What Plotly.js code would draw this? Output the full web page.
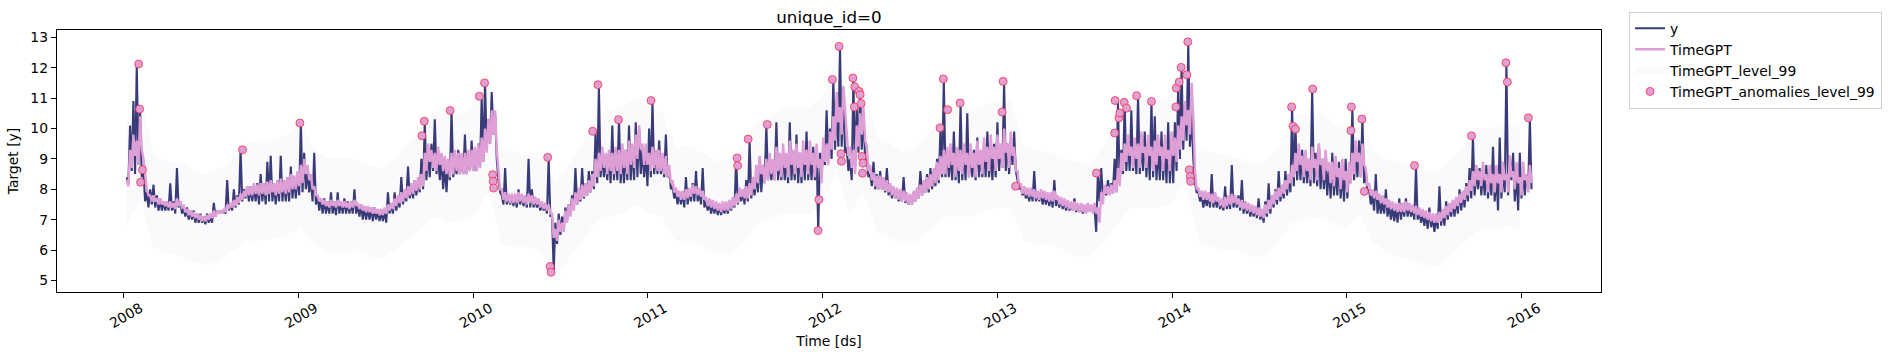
<!DOCTYPE html>
<html><head><meta charset="utf-8">
<script src="https://cdn.plot.ly/plotly-3.0.1.min.js"></script>
<style>html,body{margin:0;padding:0;background:#fff;}#chart{width:1893px;height:361px;}</style>
</head><body><div id="chart"></div>
<script>
// one weekday (high) and one weekend (low) reading per week, starting at this date
const seriesStart = '2008-01-08';
const weekDays = 7;

const yWeekHigh = [
8.4,10.1,10.9,12.1,10.6,8.6,7.9,8.0,8.15,7.8,
7.7,7.6,7.6,8.2,7.6,8.7,7.6,7.4,7.4,7.3,
7.3,7.2,7.2,7.1,7.2,7.1,7.55,7.3,7.3,7.3,
8.3,7.5,8.0,7.8,9.3,8.0,8.1,8.1,8.1,8.2,
8.5,8.2,8.9,9.1,8.2,8.3,9.1,8.3,8.4,8.75,
8.4,8.5,10.2,9.2,8.6,8.4,9.2,7.8,7.7,7.7,
7.6,7.9,7.6,7.9,7.6,7.7,7.6,7.6,8.0,7.5,
7.5,7.4,7.4,7.4,7.4,7.3,7.3,7.3,7.9,7.5,
7.9,7.7,8.4,7.9,8.75,8.1,8.3,8.3,9.0,10.2,
9.3,9.5,10.3,9.1,9.0,8.8,8.9,10.6,8.9,9.3,
9.0,9.8,9.1,9.6,9.2,9.5,11.0,11.5,10.3,11.2,
10.5,8.3,7.8,8.7,7.8,7.8,7.8,8.0,7.8,7.8,
9.0,8.0,7.7,7.6,7.5,7.5,9.0,7.2,6.9,7.2,
7.1,7.4,7.5,7.8,8.7,8.0,8.7,8.2,8.6,8.6,
9.9,11.4,9.2,9.0,9.2,10.1,9.3,10.3,9.2,9.3,
10.1,9.4,10.2,10.0,9.3,9.2,10.0,10.9,9.2,9.6,
9.0,9.8,8.6,8.1,7.9,7.9,7.9,8.4,8.0,8.2,
8.6,7.9,8.7,7.6,7.6,7.5,7.5,7.45,7.5,7.5,
7.6,7.7,9.0,8.0,7.9,8.3,9.6,8.2,8.5,9.0,
8.8,10.1,9.0,8.9,10.2,9.0,9.2,9.1,10.2,9.2,
9.8,9.2,9.3,9.9,9.2,9.4,9.3,9.2,9.5,10.6,
10.0,11.6,10.8,12.7,11.3,9.4,9.0,11.6,10.7,11.2,
10.5,9.0,8.5,8.9,8.5,8.6,8.3,8.7,8.1,8.0,
7.95,7.9,8.4,7.8,7.8,7.9,8.0,8.6,8.2,8.5,
8.7,8.6,9.0,10.0,11.6,9.3,9.2,9.9,9.1,10.8,
9.3,10.5,9.1,9.3,9.7,9.2,9.4,9.9,9.3,9.5,
10.2,9.4,11.5,9.5,9.6,9.9,8.3,8.1,8.0,7.9,
8.0,8.6,7.9,7.9,7.8,7.8,7.8,8.3,7.7,7.7,
7.6,7.6,7.5,7.7,7.45,7.5,7.4,7.5,7.4,7.4,
8.5,8.7,8.1,8.3,8.2,9.0,10.9,9.3,10.8,9.6,
10.6,9.5,11.1,9.6,9.9,9.6,10.9,10.4,9.4,9.9,
9.5,10.2,9.6,10.2,11.5,12.0,10.8,12.8,10.5,8.2,
7.9,7.8,7.8,7.8,8.5,7.8,7.7,7.6,8.1,7.7,
8.8,7.7,7.8,8.3,7.6,7.5,7.4,7.4,7.7,7.3,
7.6,8.2,7.8,8.0,8.6,8.1,8.6,8.5,10.7,10.1,
9.3,9.3,9.1,9.0,11.3,9.2,9.5,9.0,8.9,8.8,
9.2,8.7,8.9,8.6,9.0,8.6,10.7,9.4,9.6,10.3,
8.6,8.0,7.8,8.5,7.7,7.6,8.0,7.5,7.4,7.4,
7.7,7.5,7.7,7.5,7.4,8.7,7.3,7.2,7.2,7.4,
7.1,7.1,8.1,7.3,7.6,7.5,7.6,7.7,8.0,7.9,
8.2,8.7,9.7,8.7,8.7,8.6,8.8,8.6,9.4,8.5,
9.7,8.6,12.1,9.1,9.2,8.6,9.2,8.6,8.5,10.3
];
const yWeekLow = [
8.2,8.6,8.5,8.8,8.4,7.6,7.4,7.5,7.4,7.3,
7.3,7.3,7.3,7.3,7.2,7.4,7.2,7.1,7.0,7.0,
6.9,6.9,6.9,6.85,6.9,6.9,7.1,7.2,7.2,7.2,
7.3,7.3,7.4,7.5,7.6,7.7,7.6,7.6,7.6,7.5,
7.6,7.5,7.6,7.6,7.5,7.6,7.6,7.6,7.6,7.7,
7.7,7.8,7.9,8.0,7.9,7.6,7.5,7.3,7.2,7.2,
7.2,7.2,7.15,7.2,7.2,7.2,7.2,7.2,7.2,7.1,
7.0,7.0,7.0,6.95,7.0,6.95,6.95,6.9,7.2,7.2,
7.3,7.4,7.5,7.6,7.7,7.7,7.8,7.9,8.0,8.3,
8.4,8.6,8.5,8.3,8.0,7.9,8.3,8.4,8.5,8.5,
8.5,8.5,8.6,8.6,8.6,8.7,8.9,9.3,9.5,9.8,
9.0,7.9,7.5,7.5,7.5,7.45,7.4,7.5,7.45,7.4,
7.4,7.4,7.4,7.3,7.3,7.2,7.1,5.3,6.2,6.5,
6.7,7.0,7.2,7.4,7.5,7.6,7.7,7.8,7.9,8.0,
8.2,8.4,8.4,8.3,8.2,8.3,8.3,8.2,8.2,8.3,
8.3,8.3,8.4,8.5,8.4,8.1,8.4,8.5,8.5,8.5,
8.4,8.4,8.0,7.7,7.5,7.5,7.4,7.5,7.6,7.6,
7.6,7.5,7.4,7.3,7.2,7.2,7.15,7.15,7.2,7.2,
7.3,7.4,7.5,7.6,7.5,7.6,7.7,7.8,7.9,7.9,
8.2,8.3,8.3,8.3,8.3,8.3,8.3,8.2,8.3,8.3,
8.2,8.2,8.3,8.3,8.3,8.3,6.6,8.4,8.8,9.0,
9.0,9.3,9.4,9.4,9.2,8.6,8.3,8.7,9.2,9.3,
9.0,8.4,8.1,8.0,8.0,8.0,7.9,7.8,7.7,7.7,
7.6,7.6,7.55,7.5,7.5,7.6,7.7,7.8,7.9,7.9,
8.0,8.1,8.2,8.4,8.4,8.4,8.3,8.3,8.2,8.3,
8.3,8.4,8.4,8.3,8.4,8.4,8.4,8.4,8.3,8.4,
8.6,8.7,8.6,8.5,8.8,8.6,8.0,7.8,7.7,7.6,
7.6,7.6,7.6,7.5,7.5,7.45,7.4,7.45,7.4,7.35,
7.3,7.3,7.3,7.25,7.25,7.2,7.25,7.3,7.3,6.6,
7.6,7.8,7.8,7.9,7.9,7.9,8.2,8.5,8.6,8.6,
8.6,8.5,8.5,8.6,8.4,8.3,8.4,8.3,8.3,8.3,
8.2,8.2,8.2,8.6,9.0,9.3,9.6,9.4,9.0,7.9,
7.6,7.4,7.45,7.4,7.4,7.4,7.35,7.3,7.35,7.35,
7.4,7.4,7.3,7.2,7.2,7.1,7.1,7.05,7.0,6.9,
7.1,7.2,7.4,7.5,7.6,7.7,7.8,7.9,8.1,8.3,
8.3,8.2,8.2,8.1,8.2,8.1,8.0,8.0,7.8,7.7,
7.8,7.8,7.7,7.6,7.7,8.2,8.3,8.4,8.4,8.2,
7.9,7.5,7.3,7.2,7.2,7.2,7.1,7.0,6.95,6.9,
7.0,7.1,7.1,7.1,7.0,7.0,6.9,6.8,6.7,6.75,
6.6,6.7,6.8,6.8,7.0,7.1,7.1,7.2,7.3,7.4,
7.6,7.7,7.8,8.0,7.8,7.8,7.7,7.8,7.6,7.3,
7.7,7.9,7.8,8.3,7.6,7.3,7.7,7.8,8.0,8.0
];

const timegptWeekHigh = [
8.3,9.3,9.8,9.6,10.4,9.0,8.0,7.8,7.8,7.7,
7.7,7.6,7.6,7.6,7.55,7.7,7.6,7.45,7.35,7.3,
7.25,7.2,7.15,7.1,7.15,7.2,7.3,7.3,7.3,7.35,
7.5,7.55,7.65,7.75,7.85,7.95,8.1,8.1,8.2,8.15,
8.2,8.2,8.25,8.3,8.2,8.3,8.35,8.3,8.4,8.5,
8.45,8.6,8.8,9.0,8.8,8.5,8.1,7.8,7.7,7.65,
7.6,7.65,7.6,7.65,7.6,7.6,7.55,7.6,7.65,7.55,
7.5,7.45,7.45,7.4,7.4,7.35,7.35,7.4,7.5,7.55,
7.7,7.8,7.9,8.0,8.1,8.2,8.3,8.4,8.5,9.2,
9.5,9.3,9.2,9.4,9.2,9.1,9.0,9.2,9.3,9.2,
9.2,9.2,9.3,9.3,9.4,9.5,9.7,10.0,10.3,10.6,
10.6,8.6,8.0,7.9,7.85,7.85,7.85,7.9,7.85,7.8,
7.85,7.8,7.75,7.7,7.6,7.55,7.5,7.2,6.7,7.0,
6.9,7.3,7.5,7.7,7.9,8.05,8.15,8.2,8.3,8.5,
9.0,9.2,9.4,9.2,9.3,9.2,9.4,9.3,9.5,9.3,
9.6,9.5,9.8,10.1,9.5,9.5,9.2,9.4,9.3,9.3,
9.2,9.1,8.8,8.3,8.05,7.95,7.95,8.0,8.05,8.15,
8.1,8.05,7.95,7.75,7.7,7.65,7.6,7.55,7.6,7.6,
7.65,7.75,7.85,8.05,8.0,8.1,8.2,8.4,8.8,9.1,
8.8,9.0,9.2,9.0,9.4,9.2,9.5,9.2,9.6,9.3,
9.5,9.2,9.6,9.3,9.6,9.2,9.5,9.0,9.7,9.5,
9.9,10.4,11.2,10.7,11.4,9.9,9.4,9.3,10.1,10.5,
10.7,9.4,8.8,8.55,8.45,8.45,8.4,8.3,8.2,8.1,
8.05,8.0,7.95,7.9,7.85,7.95,8.05,8.15,8.3,8.4,
8.5,8.7,8.9,9.1,9.3,9.4,9.5,9.2,9.4,9.3,
9.5,9.2,9.5,9.2,9.6,9.3,9.7,9.4,9.8,9.4,
9.8,9.5,10.0,9.5,9.9,9.4,8.6,8.2,8.1,8.05,
8.05,8.0,7.95,8.0,7.95,7.9,7.9,7.95,7.8,7.75,
7.7,7.65,7.6,7.6,7.55,7.55,7.5,7.55,7.5,7.55,
7.4,7.9,8.15,8.1,8.15,8.3,8.7,9.2,9.5,9.8,
9.4,9.7,9.5,9.9,9.4,9.8,9.4,9.6,9.8,9.4,
9.8,9.3,9.9,9.7,10.1,10.4,10.9,10.6,11.5,8.6,
8.05,7.95,7.95,7.9,7.85,7.9,7.75,7.7,7.75,7.8,
7.85,7.8,7.7,7.65,7.6,7.55,7.5,7.45,7.4,7.35,
7.5,7.65,7.8,7.95,8.05,8.15,8.3,8.5,8.8,9.2,
9.5,9.1,9.3,9.0,9.4,9.0,9.5,9.0,9.3,8.9,
8.9,9.1,8.7,9.0,8.6,8.9,9.2,9.6,9.2,9.5,
8.7,8.2,8.0,7.95,7.85,7.8,7.7,7.65,7.6,7.55,
7.55,7.55,7.6,7.55,7.5,7.45,7.4,7.35,7.3,7.25,
7.2,7.2,7.25,7.35,7.45,7.55,7.65,7.75,7.85,7.95,
8.1,8.3,8.6,8.8,8.6,8.9,8.5,8.8,8.5,8.8,
8.5,8.9,8.5,9.1,8.6,8.9,8.4,8.9,8.5,8.8
];
const timegptWeekLow = [
8.1,8.7,9.1,8.8,9.3,8.4,7.8,7.6,7.6,7.5,
7.5,7.45,7.4,7.4,7.35,7.45,7.4,7.25,7.15,7.1,
7.05,7.0,6.95,6.95,7.0,7.05,7.1,7.2,7.2,7.25,
7.35,7.4,7.45,7.55,7.65,7.75,7.8,7.8,7.85,7.8,
7.85,7.8,7.85,7.9,7.8,7.85,7.9,7.85,7.9,8.0,
8.0,8.1,8.2,8.5,8.3,8.0,7.8,7.6,7.5,7.45,
7.4,7.45,7.4,7.45,7.4,7.4,7.35,7.4,7.45,7.35,
7.3,7.25,7.25,7.2,7.2,7.15,7.15,7.2,7.3,7.35,
7.45,7.55,7.6,7.7,7.8,7.85,7.95,8.0,8.1,8.6,
8.9,8.7,8.6,8.8,8.6,8.5,8.4,8.5,8.6,8.5,
8.5,8.5,8.6,8.6,8.6,8.7,8.9,9.2,9.5,9.8,
9.3,8.0,7.65,7.6,7.55,7.55,7.55,7.6,7.55,7.5,
7.55,7.5,7.5,7.4,7.35,7.3,7.2,6.4,6.3,6.6,
6.6,6.9,7.1,7.3,7.5,7.65,7.75,7.8,7.9,8.1,
8.4,8.6,8.7,8.5,8.6,8.5,8.6,8.5,8.7,8.5,
8.8,8.7,9.0,9.3,8.8,8.8,8.6,8.7,8.6,8.6,
8.5,8.4,8.2,7.9,7.75,7.65,7.65,7.7,7.75,7.85,
7.8,7.75,7.65,7.45,7.4,7.35,7.3,7.25,7.3,7.3,
7.35,7.45,7.55,7.75,7.7,7.7,7.8,8.0,8.2,8.5,
8.2,8.3,8.5,8.3,8.6,8.4,8.7,8.4,8.8,8.5,
8.7,8.4,8.8,8.5,8.8,8.4,8.7,8.2,8.9,8.8,
9.3,9.6,10.2,9.8,10.5,9.1,8.7,8.5,9.4,9.8,
9.6,8.6,8.3,8.1,8.0,8.0,7.95,7.9,7.8,7.7,
7.65,7.6,7.6,7.5,7.5,7.6,7.7,7.8,7.9,8.0,
8.1,8.2,8.3,8.5,8.5,8.7,8.8,8.4,8.6,8.5,
8.8,8.4,8.7,8.4,8.8,8.5,8.9,8.6,9.0,8.6,
9.0,8.7,9.2,8.7,9.1,8.6,8.1,7.85,7.8,7.75,
7.75,7.7,7.65,7.7,7.65,7.6,7.6,7.65,7.5,7.45,
7.4,7.35,7.3,7.3,7.25,7.25,7.2,7.25,7.2,7.2,
6.9,7.5,7.85,7.8,7.85,7.9,8.1,8.6,8.9,9.1,
8.7,9.0,8.7,9.2,8.7,9.1,8.6,8.8,9.1,8.6,
9.0,8.6,9.1,8.9,9.3,9.6,10.1,9.8,10.4,8.0,
7.75,7.65,7.65,7.6,7.55,7.6,7.45,7.4,7.45,7.5,
7.55,7.5,7.4,7.35,7.3,7.25,7.2,7.15,7.1,7.05,
7.2,7.35,7.5,7.65,7.75,7.85,8.0,8.2,8.4,8.6,
8.8,8.4,8.6,8.3,8.7,8.3,8.8,8.3,8.6,8.2,
8.1,8.4,8.0,8.3,7.9,8.2,8.5,8.9,8.4,8.8,
8.1,7.8,7.7,7.65,7.55,7.5,7.4,7.35,7.3,7.25,
7.25,7.25,7.3,7.25,7.2,7.15,7.1,7.05,7.0,6.95,
6.9,6.9,6.95,7.05,7.15,7.25,7.35,7.45,7.55,7.65,
7.8,7.95,8.1,8.3,8.1,8.3,7.9,8.2,7.9,8.2,
7.9,8.3,7.9,8.4,8.0,8.2,7.8,8.3,7.9,8.2
];

// 99% interval, one reading every 28 days from seriesStart
const bandStepDays = 28;
const bandLow = [
6.8,7.6,6.1,5.9,5.8,5.6,5.5,5.7,6.0,6.3,
6.3,6.4,6.5,6.8,6.2,5.9,5.9,6.0,5.8,5.7,
6.0,6.4,6.7,7.1,6.9,7.0,7.2,7.9,6.2,6.1,
6.1,5.9,5.0,5.7,6.3,6.9,7.1,7.2,7.5,7.2,
7.1,6.3,6.3,6.1,5.9,5.9,6.2,6.8,7.0,7.2,
7.2,7.2,7.5,8.6,7.2,7.9,6.6,6.4,6.2,6.3,
6.7,7.1,7.1,7.1,7.3,7.4,7.4,6.3,6.2,6.2,
6.0,5.8,5.8,6.3,6.9,7.4,7.4,7.4,7.5,8.3,
6.3,6.1,6.0,6.0,5.8,5.8,6.3,6.9,7.0,7.1,
6.9,6.7,7.2,6.3,5.9,5.8,5.7,5.5,5.5,5.9,
6.3,6.7,6.7,6.8,6.7
];
const bandHigh = [
10.2,11.2,9.2,8.9,8.9,8.6,8.5,8.7,9.0,9.5,
9.6,9.6,9.8,10.3,9.3,9.0,9.0,9.0,8.8,8.7,
9.0,9.5,10.1,10.6,10.4,10.5,10.8,11.8,9.4,9.2,
9.1,9.0,8.3,8.8,9.5,10.4,10.6,10.7,11.0,10.7,
10.5,9.4,9.4,9.2,8.9,9.0,9.4,10.2,10.4,10.7,
10.7,10.7,11.1,12.4,10.7,11.6,9.7,9.5,9.2,9.4,
9.9,10.6,10.6,10.6,10.8,10.9,10.9,9.4,9.3,9.2,
9.0,8.9,8.8,9.5,10.3,10.9,11.0,10.9,11.1,12.2,
9.3,9.2,9.1,9.0,8.8,8.9,9.4,10.4,10.5,10.6,
10.2,10.0,10.7,9.3,9.0,8.9,8.8,8.6,8.6,9.0,
9.5,10.0,10.0,10.2,10.0
];

const anomalyDates = [
'2008-02-02','2008-02-04','2008-02-06','2008-02-10','2008-09-06','2009-01-04',
'2009-09-16','2009-09-21','2009-11-14','2010-01-14','2010-01-25',
'2010-02-11','2010-02-12','2010-02-13',
'2010-06-06','2010-06-11','2010-06-13','2010-09-08','2010-09-19','2010-11-01','2011-01-08',
'2011-07-07','2011-07-08','2011-07-30','2011-09-08','2011-12-23','2011-12-25',
'2012-01-22','2012-02-05','2012-02-09','2012-02-10','2012-03-05','2012-03-08','2012-03-09',
'2012-03-18','2012-03-20','2012-03-22','2012-03-24','2012-03-25','2012-03-26',
'2012-09-03','2012-09-10','2012-09-19','2012-10-15','2013-01-11','2013-01-13','2013-02-08',
'2013-07-27','2013-09-03','2013-09-04','2013-09-12','2013-09-14','2013-09-23','2013-09-28',
'2013-10-19','2013-11-19',
'2014-01-09','2014-01-10','2014-01-16','2014-01-20','2014-02-01','2014-02-03',
'2014-02-06','2014-02-08','2014-02-09',
'2014-09-08','2014-09-11','2014-09-16','2014-10-22','2015-01-10','2015-01-11',
'2015-02-02','2015-02-07','2015-05-23','2015-09-19','2015-11-30','2015-12-03','2016-01-16'
];
const anomalyValues = [
12.12,10.64,8.23,8.64,9.3,10.18,
9.76,10.24,10.59,11.06,11.5,
8.48,8.26,8.04,
9.05,5.46,5.27,9.91,11.44,10.29,10.92,
9.03,8.78,9.65,10.13,6.64,7.66,
11.61,12.7,9.17,8.92,11.66,10.71,11.37,
11.22,11.11,10.82,9.08,8.53,8.86,
10.02,11.63,10.62,10.84,10.54,11.55,8.1,
8.53,9.85,10.92,10.35,10.51,10.86,10.67,
11.08,10.89,
10.71,11.33,11.53,12.01,11.77,12.85,
8.64,8.42,8.26,
10.71,10.07,9.98,11.3,9.93,10.71,
10.31,7.93,8.78,9.76,12.16,11.53,10.35
];

const yearTickDates = ['2008-01-01','2009-01-01','2010-01-01','2011-01-01','2012-01-01','2013-01-01','2014-01-01','2015-01-01','2016-01-01'];
const yearTickLabels = ['2008','2009','2010','2011','2012','2013','2014','2015','2016'];
const yTicks = [5,6,7,8,9,10,11,12,13];

const DAY = 86400000;
const NAVY = '#393b79';
const PINK = '#de9ed6';

// interleave weekday/weekend readings on the date axis
function weekly(high, low) {
  const t0 = new Date(seriesStart + 'T00:00:00Z').getTime();
  const xs = [], ys = [];
  for (let i = 0; i < high.length; i++) {
    xs.push(new Date(t0 + i * weekDays * DAY).toISOString().slice(0, 16).replace('T', ' '));
    ys.push(high[i]);
    xs.push(new Date(t0 + (i * weekDays + weekDays / 2) * DAY).toISOString().slice(0, 16).replace('T', ' '));
    ys.push(low[i]);
  }
  return {x: xs, y: ys};
}
const ySeries = weekly(yWeekHigh, yWeekLow);
const tgSeries = weekly(timegptWeekHigh, timegptWeekLow);

const traces = [
  {type:'scatter', mode:'lines', name:'bandlow', x0:seriesStart, dx:bandStepDays*DAY, y:bandLow,
   line:{width:0, color:'rgba(0,0,0,0)'}, showlegend:false, hoverinfo:'skip'},
  {type:'scatter', mode:'lines', name:'TimeGPT_level_99', x0:seriesStart, dx:bandStepDays*DAY, y:bandHigh,
   fill:'tonexty', fillcolor:'rgba(190,190,215,0.07)', line:{width:0, color:'rgba(0,0,0,0)'}, legendrank:3},
  {type:'scatter', mode:'lines', name:'y', x:ySeries.x, y:ySeries.y,
   line:{color:NAVY, width:2.1}, legendrank:1},
  {type:'scatter', mode:'lines', name:'TimeGPT', x:tgSeries.x, y:tgSeries.y,
   line:{color:PINK, width:2.4}, legendrank:2},
  {type:'scatter', mode:'markers', name:'TimeGPT_anomalies_level_99', x:anomalyDates, y:anomalyValues,
   marker:{size:8, color:PINK, line:{color:'rgba(255,40,60,0.75)', width:1}}, legendrank:4}
];

const layout = {
  width:1893, height:361,
  margin:{l:57, r:291, t:30, b:69},
  paper_bgcolor:'#ffffff', plot_bgcolor:'#ffffff',
  font:{family:'DejaVu Sans, sans-serif', size:13.9, color:'#000'},
  title:{text:'unique_id=0', x:0.5, xref:'paper', xanchor:'center', y:1-17/361, yref:'container', yanchor:'middle', font:{size:16.7, color:'#000'}},
  xaxis:{type:'date', range:['2007-08-15 07:00','2016-06-15 17:00'], tickmode:'array', tickvals:yearTickDates, ticktext:yearTickLabels,
    tickangle:-30, ticklabelshift:17, ticklabelstandoff:-3, ticks:'outside', ticklen:5, tickwidth:1, tickcolor:'#000', showline:true, linecolor:'#000', linewidth:1.2, mirror:true,
    showgrid:false, zeroline:false, automargin:false, title:{text:'Time [ds]', font:{size:13.9}, standoff:6}},
  yaxis:{range:[4.62,13.24], tickmode:'array', tickvals:yTicks, ticks:'outside', ticklen:5, tickwidth:1, tickcolor:'#000',
    showline:true, linecolor:'#000', linewidth:1.2, mirror:true, showgrid:false, zeroline:false, automargin:false,
    title:{text:'Target [y]', font:{size:13.9}, standoff:8}},
  legend:{x:1.0175, y:1.07, xanchor:'left', yanchor:'top', bgcolor:'#fff', bordercolor:'#d0d0d0', borderwidth:1,
    font:{size:13.9}, tracegroupgap:0, traceorder:'normal'},
  showlegend:true
};

Plotly.newPlot('chart', traces, layout, {displayModeBar:false, staticPlot:true});
</script>
</body></html>
